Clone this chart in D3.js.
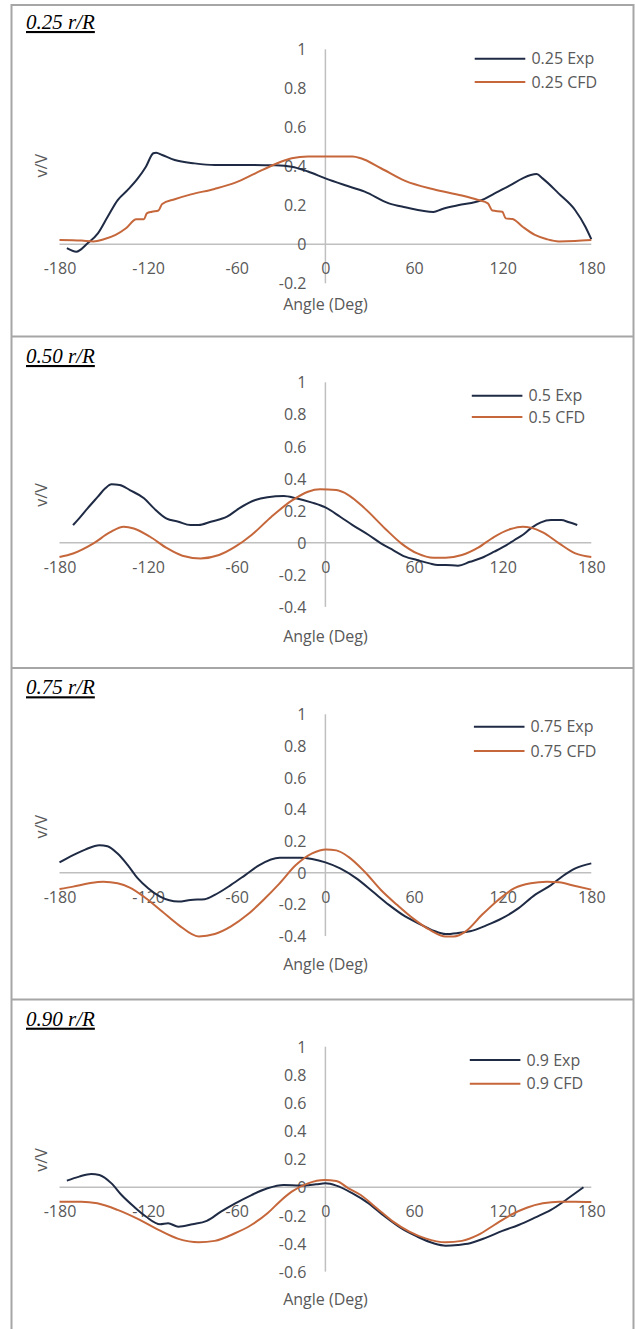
<!DOCTYPE html>
<html>
<head>
<meta charset="utf-8">
<script src="https://cdn.jsdelivr.net/npm/d3@7"></script>
<style>
  html, body { margin: 0; padding: 0; background: #fff; }
  svg { display: block; }
</style>
</head>
<body>
<svg id="chart" width="635" height="1329"></svg>
<script>
// ---------------- DATA ----------------
const xTicks = [-180, -120, -60, 0, 60, 120, 180];
const yTicks25 = [-0.2, 0, 0.2, 0.4, 0.6, 0.8, 1];
const yTicks50 = [-0.4, -0.2, 0, 0.2, 0.4, 0.6, 0.8, 1];
const yTicks75 = [-0.4, -0.2, 0, 0.2, 0.4, 0.6, 0.8, 1];
const yTicks90 = [-0.6, -0.4, -0.2, 0, 0.2, 0.4, 0.6, 0.8, 1];

const titles = ["0.25 r/R", "0.50 r/R", "0.75 r/R", "0.90 r/R"];
const expNames = ["0.25 Exp", "0.5 Exp", "0.75 Exp", "0.9 Exp"];
const cfdNames = ["0.25 CFD", "0.5 CFD", "0.75 CFD", "0.9 CFD"];

const exp025 = [[-175,-0.02],[-168.6,-0.038],[-161,0.005],[-154,0.056],[-147.5,0.14],[-140.6,0.227],[-133.8,0.279],[-127,0.338],[-121.5,0.398],[-116.5,0.467],[-114.6,0.47],[-110.5,0.458],[-102,0.432],[-88.6,0.415],[-74.9,0.407],[-55.7,0.407],[-33.7,0.405],[-22.8,0.398],[-11.8,0.373],[0,0.338],[12.9,0.304],[26.6,0.27],[43,0.21],[54,0.19],[73.2,0.166],[78.7,0.18],[89.7,0.2],[106,0.227],[114.3,0.26],[125.3,0.304],[133.5,0.338],[139,0.355],[143,0.36],[147,0.338],[158,0.26],[169,0.176],[176,0.09],[180,0.026]];
const cfd025 = [[-180,0.022],[-165,0.019],[-157,0.015],[-150,0.026],[-142,0.048],[-135,0.082],[-128,0.128],[-122.8,0.128],[-120.9,0.159],[-117.4,0.167],[-113,0.173],[-110.5,0.207],[-102,0.231],[-91,0.256],[-75,0.284],[-61,0.316],[-47.4,0.364],[-33.7,0.412],[-22.8,0.441],[-11.8,0.45],[0,0.45],[18.4,0.45],[24,0.441],[37.6,0.39],[54,0.325],[73.2,0.282],[92.4,0.25],[103.4,0.227],[110,0.21],[113,0.173],[119.8,0.167],[122,0.133],[126.7,0.13],[133.5,0.09],[141.8,0.048],[150,0.026],[158,0.015],[169,0.017],[180,0.022]];

const exp050 = [[-170.8,0.11],[-166.7,0.152],[-161,0.214],[-154,0.287],[-149,0.339],[-144.8,0.364],[-139.3,0.36],[-132.4,0.328],[-122.8,0.277],[-116,0.214],[-107.8,0.152],[-99.5,0.131],[-91.3,0.11],[-85.8,0.11],[-77.6,0.131],[-66.6,0.162],[-58.4,0.214],[-47.4,0.266],[-39.2,0.283],[-28.2,0.291],[-20,0.277],[-9,0.25],[0,0.22],[10,0.162],[18.4,0.11],[29.3,0.048],[37.6,-0.004],[45.8,-0.046],[54,-0.087],[62,-0.108],[70.5,-0.129],[76,-0.139],[81.4,-0.139],[89.7,-0.143],[97.9,-0.119],[106,-0.094],[114.3,-0.056],[122.6,-0.015],[128,0.017],[133.5,0.048],[139,0.089],[145.9,0.127],[152.7,0.141],[159.6,0.141],[165,0.127],[170.5,0.11]];
const cfd050 = [[-180,-0.089],[-170.8,-0.067],[-157,-0.004],[-146,0.064],[-136.5,0.1],[-129.7,0.089],[-118.7,0.037],[-107.8,-0.031],[-96.8,-0.081],[-84.5,-0.098],[-72,-0.077],[-61,-0.025],[-50,0.048],[-36.5,0.162],[-22.8,0.262],[-11.8,0.318],[-3.6,0.333],[7.4,0.328],[15.6,0.297],[26.6,0.214],[40.3,0.089],[51.3,-0.004],[62.2,-0.067],[73.2,-0.094],[81.4,-0.094],[92.4,-0.077],[103.4,-0.031],[114.3,0.037],[125.3,0.085],[133.5,0.1],[139,0.094],[147.2,0.064],[158.2,-0.004],[169.2,-0.067],[180,-0.089]];

const exp075 = [[-180,0.065],[-170.8,0.111],[-162.6,0.146],[-153,0.174],[-147.5,0.167],[-140.7,0.121],[-133.8,0.048],[-127,-0.036],[-120,-0.098],[-111.9,-0.151],[-99.5,-0.182],[-91.3,-0.172],[-81.7,-0.167],[-74.9,-0.14],[-63.9,-0.077],[-54.3,-0.015],[-44.7,0.048],[-31,0.094],[-17.3,0.094],[-9,0.086],[0,0.065],[10,0.027],[21,-0.036],[32,-0.119],[43,-0.203],[54,-0.276],[65,-0.329],[73.2,-0.366],[81.4,-0.387],[89.7,-0.381],[97.9,-0.37],[108.9,-0.333],[119.8,-0.287],[130.8,-0.224],[141.8,-0.14],[152.7,-0.078],[161,-0.019],[169.2,0.027],[180,0.059]];
const cfd075 = [[-180,-0.103],[-170.8,-0.088],[-160,-0.067],[-150.3,-0.057],[-140.7,-0.067],[-132.4,-0.094],[-121.5,-0.161],[-110.5,-0.245],[-99.5,-0.329],[-85.8,-0.402],[-74.9,-0.387],[-63.9,-0.339],[-52.9,-0.266],[-42,-0.172],[-31,-0.067],[-20,0.048],[-9,0.122],[0.5,0.147],[7.4,0.141],[15.6,0.1],[26.6,0.006],[37.6,-0.109],[48.5,-0.203],[59.5,-0.29],[70.5,-0.36],[81.4,-0.402],[87,-0.402],[95,-0.37],[106,-0.266],[117,-0.172],[128,-0.098],[139,-0.067],[150,-0.057],[158.2,-0.061],[169.2,-0.084],[180,-0.107]];

const exp090 = [[-175,0.047],[-166.7,0.076],[-158.5,0.095],[-153,0.088],[-144.8,0.028],[-138,-0.055],[-129.7,-0.137],[-121.5,-0.208],[-111.9,-0.263],[-106.5,-0.256],[-99.5,-0.28],[-90,-0.263],[-80.3,-0.239],[-70.7,-0.173],[-61,-0.114],[-50,-0.055],[-39.2,-0.007],[-28.2,0.017],[-17.3,0.012],[-6.3,0.021],[0,0.028],[7.4,0.012],[18.4,-0.043],[29.3,-0.114],[40.3,-0.208],[51.3,-0.291],[62.2,-0.351],[73.2,-0.398],[81.4,-0.415],[89.7,-0.41],[97.9,-0.398],[108.9,-0.358],[119.8,-0.31],[130.8,-0.268],[141.8,-0.216],[152.7,-0.161],[163.7,-0.083],[174.7,0]];
const cfd090 = [[-180,-0.102],[-165.3,-0.102],[-154.4,-0.114],[-140.7,-0.161],[-127,-0.225],[-113,-0.303],[-99.5,-0.367],[-85.8,-0.391],[-74.9,-0.381],[-61.2,-0.327],[-50.2,-0.268],[-39.2,-0.185],[-31,-0.102],[-22.8,-0.031],[-11.8,0.028],[-0.8,0.052],[7.4,0.045],[15.6,-0.007],[23.9,-0.055],[34.8,-0.149],[45.8,-0.244],[56.8,-0.315],[67.7,-0.363],[81.4,-0.391],[92.4,-0.381],[103.4,-0.339],[114.3,-0.268],[125.3,-0.197],[136.3,-0.145],[147.2,-0.114],[158.2,-0.102],[169.2,-0.102],[180,-0.104]];

// ---------------- LAYOUT ----------------
const panels = [
  { exp: exp025, cfd: cfd025, ticks: yTicks25, y1: 49.3,  y0: 244.3,  titleY: 29,    xLab: 268.3,  xTitle: 304.3,  vv: 165.7,  legX: 474.7, legY: [58.7, 82] },
  { exp: exp050, cfd: cfd050, ticks: yTicks50, y1: 382.3, y0: 542.7,  titleY: 363,   xLab: 567.3,  xTitle: 636,    vv: 495,    legX: 471.8, legY: [395.7, 417] },
  { exp: exp075, cfd: cfd075, ticks: yTicks75, y1: 714.3, y0: 872.7,  titleY: 694.3, xLab: 897.3,  xTitle: 964.3,  vv: 826.7,  legX: 473.9, legY: [726.7, 751] },
  { exp: exp090, cfd: cfd090, ticks: yTicks90, y1: 1046.7, y0: 1187.3, titleY: 1025.7, xLab: 1211.7, xTitle: 1299.3, vv: 1160,  legX: 469.8, legY: [1060, 1083.7] }
];

const expColor = "#1f2b45";
const cfdColor = "#c5673b";
const textColor = "#595959";
const axisColor = "#bfbfbf";
const borderColor = "#a6a6a6";
const font = "'Open Sans', 'Liberation Sans', sans-serif";

const svg = d3.select("#chart");
const x = d3.scaleLinear().domain([-180, 180]).range([59.5, 591.3]);

// frame
const frameYs = [5, 336.5, 668, 999.5];
frameYs.forEach(fy => {
  svg.append("line").attr("x1", 11.5).attr("x2", 633.5).attr("y1", fy).attr("y2", fy)
    .attr("stroke", borderColor).attr("stroke-width", 2);
});
[11.5, 633.5].forEach(fx => {
  svg.append("line").attr("x1", fx).attr("x2", fx).attr("y1", 4).attr("y2", 1329)
    .attr("stroke", borderColor).attr("stroke-width", 2);
});

panels.forEach((p, i) => {
  const g = svg.append("g");
  const y = d3.scaleLinear().domain([0, 1]).range([p.y0, p.y1]);
  const yMin = d3.min(p.ticks);

  // title
  g.append("text").attr("x", 26).attr("y", p.titleY)
    .attr("font-family", "'Liberation Serif', 'Times New Roman', serif")
    .attr("font-style", "italic").attr("font-size", 21)
    .attr("text-decoration", "underline").attr("fill", "#000")
    .text(titles[i]);

  // axis lines
  g.append("line").attr("x1", x(-180)).attr("x2", x(180)).attr("y1", y(0)).attr("y2", y(0))
    .attr("stroke", axisColor).attr("stroke-width", 1.5);
  g.append("line").attr("x1", x(0)).attr("x2", x(0)).attr("y1", y(1)).attr("y2", y(yMin))
    .attr("stroke", axisColor).attr("stroke-width", 1.5);

  // y tick labels
  const yAxis = d3.axisLeft(y).tickValues(p.ticks).tickSize(0).tickPadding(19)
    .tickFormat(d => String(d));
  const ya = g.append("g").attr("transform", `translate(${x(0)},0)`).call(yAxis);
  ya.select(".domain").remove();
  ya.selectAll("text").attr("font-family", font).attr("font-size", 16).attr("fill", textColor)
    .attr("dy", "0.35em");

  // x tick labels
  const xAxis = d3.axisBottom(x).tickValues(xTicks).tickSize(0).tickPadding(0)
    .tickFormat(d => String(d));
  const xa = g.append("g").attr("transform", `translate(0,${p.xLab})`).call(xAxis);
  xa.select(".domain").remove();
  xa.selectAll("text").attr("font-family", font).attr("font-size", 16).attr("fill", textColor)
    .attr("y", 0).attr("dy", "0.35em");

  // axis titles
  g.append("text").attr("x", x(0)).attr("y", p.xTitle).attr("dy", "0.35em")
    .attr("text-anchor", "middle").attr("font-family", font).attr("font-size", 16)
    .attr("fill", textColor).text("Angle (Deg)");
  g.append("text").attr("transform", `translate(41.7,${p.vv}) rotate(-90)`)
    .attr("dy", "0.35em").attr("text-anchor", "middle").attr("font-family", font)
    .attr("font-size", 16).attr("fill", textColor).text("v/V");

  // lines
  const line = d3.line().x(d => x(d[0])).y(d => y(d[1])).curve(d3.curveMonotoneX);
  g.append("path").datum(p.exp).attr("d", line).attr("fill", "none")
    .attr("stroke", expColor).attr("stroke-width", 2).attr("stroke-linejoin", "round");
  g.append("path").datum(p.cfd).attr("d", line).attr("fill", "none")
    .attr("stroke", cfdColor).attr("stroke-width", 2).attr("stroke-linejoin", "round");

  // legend
  const leg = [[expNames[i], expColor], [cfdNames[i], cfdColor]];
  leg.forEach((l, k) => {
    const ly = p.legY[k];
    g.append("line").attr("x1", p.legX).attr("x2", p.legX + 50.6).attr("y1", ly).attr("y2", ly)
      .attr("stroke", l[1]).attr("stroke-width", 2);
    g.append("text").attr("x", p.legX + 56.7).attr("y", ly).attr("dy", "0.35em")
      .attr("font-family", font).attr("font-size", 16).attr("fill", textColor).text(l[0]);
  });
});
</script>
</body>
</html>
